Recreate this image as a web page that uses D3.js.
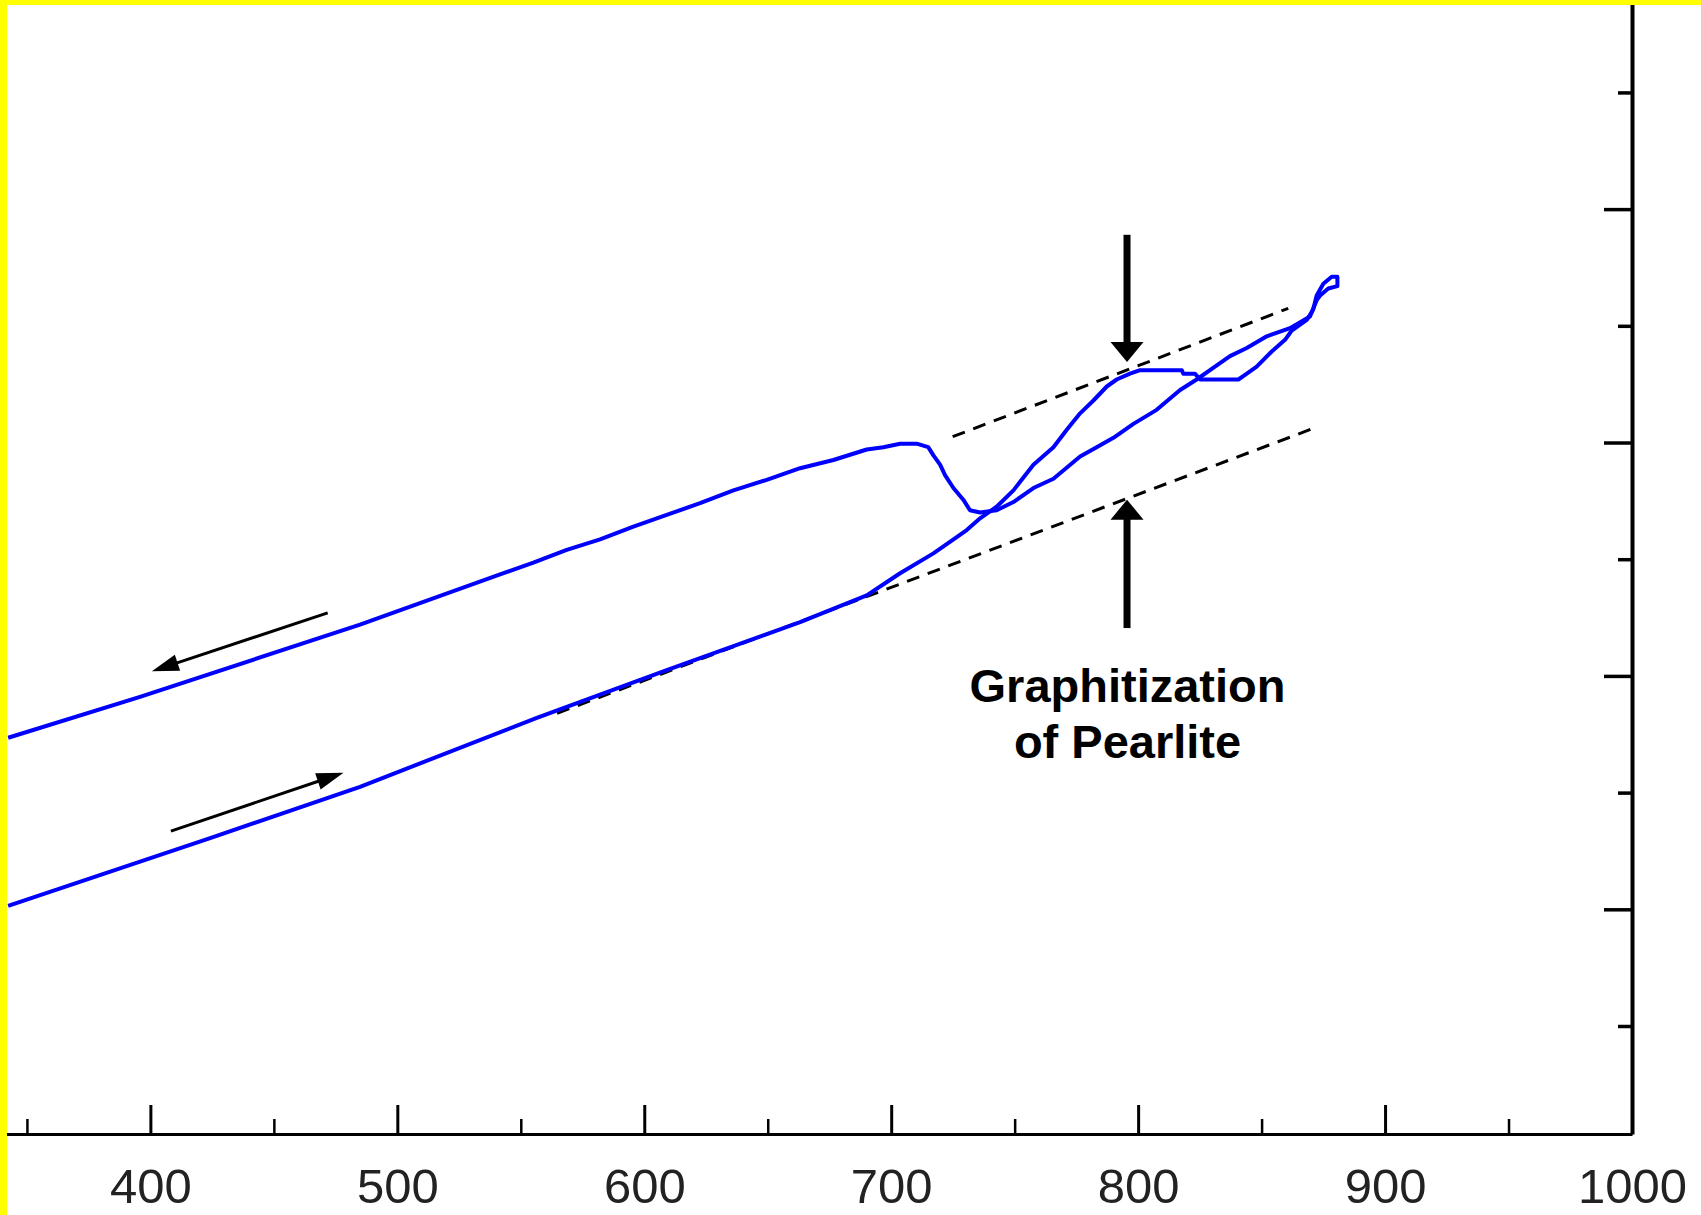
<!DOCTYPE html>
<html lang="en">
<head>
<meta charset="UTF-8">
<title>Dilatometer curve - graphitization of pearlite</title>
<script src="https://d3js.org/d3.v7.min.js"></script>
<style>
    body { margin: 0; background: #fff; }
    svg { display: block; }
    .tick text { font-family: "Liberation Sans", Arial, sans-serif; font-size: 49px; fill: #222; }
    .note { font-family: "Liberation Sans", Arial, sans-serif; font-weight: bold; font-size: 47px; fill: #000; }
</style>
</head>
<body>
<svg width="1701" height="1215"></svg>
<script>
// heating run (lower line, graphitization step, loop up to the top)
var heatTemp = [342.4, 424.2, 484.9, 556.5, 609.1, 663.1, 690.1, 703.6, 717.1, 730.6, 736.0, 742.7, 749.5, 757.6,
    765.7, 771.1, 776.5, 781.9, 787.3, 791.3, 796.7, 800.8, 817.7, 818.3, 823.0, 825.1, 840.6, 843.3, 848.0,
    854.1, 859.5, 862.2, 868.3, 870.9, 872.3, 875.0, 878.4, 880.7, 880.7, 877.0, 873.7, 872.3];
var heatDil = [2.03, 2.61, 3.05, 3.64, 4.05, 4.46, 4.69, 4.88, 5.05, 5.25, 5.35, 5.45, 5.59, 5.81,
    5.96, 6.11, 6.25, 6.36, 6.48, 6.54, 6.59, 6.62, 6.62, 6.59, 6.59, 6.54, 6.54, 6.58, 6.65,
    6.78, 6.88, 6.96, 7.05, 7.14, 7.26, 7.36, 7.42, 7.42, 7.34, 7.32, 7.26, 7.22];

// cooling run (back down the loop, dip + rise near 720, then upper line)
var coolTemp = [872.3, 869.6, 861.5, 852.1, 844.0, 837.2, 829.1, 823.7, 817.0, 807.5, 798.1, 790.0, 783.2, 776.5,
    765.7, 757.6, 749.5, 742.7, 736.0, 731.9, 729.2, 725.2, 721.8, 719.8, 717.1, 715.0, 710.3, 703.6, 696.8,
    690.1, 676.6, 663.1, 649.6, 636.1, 622.6, 609.1, 595.6, 582.1, 568.6, 555.1, 541.6, 484.9, 395.8, 342.4];
var coolDil = [7.22, 7.08, 6.98, 6.91, 6.81, 6.74, 6.62, 6.54, 6.45, 6.28, 6.16, 6.04, 5.96, 5.88,
    5.69, 5.61, 5.49, 5.42, 5.40, 5.42, 5.51, 5.61, 5.72, 5.81, 5.89, 5.96, 5.99, 5.99, 5.96,
    5.94, 5.85, 5.78, 5.68, 5.59, 5.48, 5.38, 5.28, 5.17, 5.08, 4.97, 4.87, 4.44, 3.82, 3.47];

// dashed guide lines
var lowGuideTemp = [564.7, 870.8], lowGuideDil = [3.68, 6.12];
var highGuideTemp = [724.9, 860.8], highGuideDil = [6.05, 7.15];

// ticks
var xMajor = [400, 500, 600, 700, 800, 900, 1000];
var xMinor = [350, 450, 550, 650, 750, 850, 950];
var xLabels = ["400", "500", "600", "700", "800", "900", "1000"];
var yMajor = [2, 4, 6, 8];
var yMinor = [1, 3, 5, 7, 9];

// annotation arrows [temp, dil] from -> to
var arrowFrom = [[795.5, 7.78], [795.5, 4.41], [471.8, 4.54], [408.3, 2.67]];
var arrowTo   = [[795.5, 6.69], [795.5, 5.51], [400.6, 4.04], [478.2, 3.17]];
var arrowBig  = [true, true, false, false];
var noteTemp = 795.7;
var noteLines = ["Graphitization", "of Pearlite"];

var svg = d3.select("svg");
var x = d3.scaleLinear().domain([339.1, 1000]).range([0, 1632]);
var y = d3.scaleLinear().domain([0.0745, 9.792]).range([1134, 0]);

svg.append("rect").attr("width", 1701).attr("height", 1215).attr("fill", "#fff");

// axes: bottom (ticks pointing up) and right (ticks pointing left), no y labels
var xAxis = svg.append("g").attr("transform", "translate(0,1134)")
    .call(d3.axisBottom(x).tickValues(xMajor).tickSize(-29).tickSizeOuter(0).tickPadding(34)
        .tickFormat(function(d, i) { return xLabels[i]; }));
xAxis.select(".domain").attr("stroke-width", 3);
xAxis.selectAll(".tick line").attr("stroke-width", 3);

var xAxisMinor = svg.append("g").attr("transform", "translate(0,1134)")
    .call(d3.axisBottom(x).tickValues(xMinor).tickSize(-15).tickSizeOuter(0).tickFormat(""));
xAxisMinor.select(".domain").remove();
xAxisMinor.selectAll(".tick line").attr("stroke-width", 2.5);

var yAxis = svg.append("g").attr("transform", "translate(1632,0)")
    .call(d3.axisRight(y).tickValues(yMajor).tickSize(-28).tickSizeOuter(0).tickFormat(""));
yAxis.select(".domain").attr("stroke-width", 4);
yAxis.selectAll(".tick line").attr("stroke-width", 3.5);

var yAxisMinor = svg.append("g").attr("transform", "translate(1632,0)")
    .call(d3.axisRight(y).tickValues(yMinor).tickSize(-14).tickSizeOuter(0).tickFormat(""));
yAxisMinor.select(".domain").remove();
yAxisMinor.selectAll(".tick line").attr("stroke-width", 3.5);

// dashed guides
var guide = d3.line().x(function(d) { return x(d[0]); }).y(function(d) { return y(d[1]); });
[[lowGuideTemp, lowGuideDil], [highGuideTemp, highGuideDil]].forEach(function(g) {
    svg.append("path")
        .attr("d", guide(d3.zip(g[0], g[1])))
        .attr("fill", "none").attr("stroke", "#000")
        .attr("stroke-width", 3).attr("stroke-dasharray", "13,9");
});

// the dilatation curve
var curve = d3.line().x(function(d) { return x(d[0]); }).y(function(d) { return y(d[1]); });
[[heatTemp, heatDil], [coolTemp, coolDil]].forEach(function(c) {
    svg.append("path")
        .attr("d", curve(d3.zip(c[0], c[1])))
        .attr("fill", "none").attr("stroke", "#0000ff")
        .attr("stroke-width", 4).attr("stroke-linejoin", "round");
});

// arrows
function drawArrow(from, to, big) {
    var x0 = x(from[0]), y0 = y(from[1]), x1 = x(to[0]), y1 = y(to[1]);
    var len = Math.hypot(x1 - x0, y1 - y0);
    var ux = (x1 - x0) / len, uy = (y1 - y0) / len;
    var headLen = big ? 20 : 27, headW = big ? 33 : 17;
    var bx = x1 - ux * headLen, by = y1 - uy * headLen;
    svg.append("line")
        .attr("x1", x0).attr("y1", y0)
        .attr("x2", bx + ux * 2).attr("y2", by + uy * 2)
        .attr("stroke", "#000").attr("stroke-width", big ? 7 : 3);
    svg.append("polygon")
        .attr("points", [[x1, y1], [bx - uy * headW / 2, by + ux * headW / 2], [bx + uy * headW / 2, by - ux * headW / 2]].join(" "))
        .attr("fill", "#000");
}
arrowFrom.forEach(function(f, i) { drawArrow(f, arrowTo[i], arrowBig[i]); });

// annotation text
svg.selectAll("text.note").data(noteLines).enter().append("text")
    .attr("class", "note")
    .attr("x", x(noteTemp))
    .attr("y", function(d, i) { return 702 + i * 56; })
    .attr("text-anchor", "middle")
    .text(function(d) { return d; });

// yellow frame on the left and top
svg.append("rect").attr("x", 0).attr("y", 0).attr("width", 7).attr("height", 1215).attr("fill", "#ffff00");
svg.append("rect").attr("x", 0).attr("y", 0).attr("width", 1701).attr("height", 5).attr("fill", "#ffff00");
</script>
</body>
</html>
